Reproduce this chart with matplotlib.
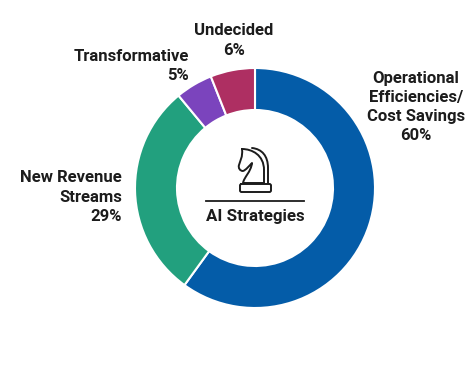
import matplotlib
matplotlib.use("Agg")
import matplotlib.pyplot as plt
from matplotlib.path import Path
from matplotlib.patches import PathPatch

# data
# ----------
labels = ["Operational\nEfficiencies/\nCost Savings\n60%", "New Revenue\nStreams\n29%", "Transformative\n5%", "Undecided\n6%"]
values = [60, 29, 5, 6]
colors = ["#045ca8", "#22a07e", "#7b44bd", "#ae2f62"]
center_label = "AI Strategies"

# plot settings
# ----------
plt.rcParams["font.family"] = "Roboto"
color_text = "#1c1c1c"
H = 365

fig = plt.figure(figsize=(4.68, 3.65), dpi=100)
ax = fig.add_axes([0, 0, 1, 1])

wedges, _ = ax.pie(values, colors=colors, center=(255, H - 188), radius=120, startangle=90, counterclock=False,
                   wedgeprops=dict(width=42, edgecolor="white", linewidth=1.5))
ax.set_xlim(0, 468)
ax.set_ylim(0, H)
ax.set_aspect("equal")

# labels, positions in pixels from the top left
label_pos = [(416, 107, "center"), (122, 197, "right"), (189, 66, "right"), (234, 40.5, "center")]
for label, (x, y, ha) in zip(labels, label_pos):
    ax.text(x, H - y, label, ha=ha, va="center", fontsize=12, fontweight="semibold",
            color=color_text, linespacing=1.35, multialignment=ha)

ax.text(255, H - 217, center_label, ha="center", va="center", fontsize=12.2, fontweight="semibold", color=color_text)
ax.plot([206, 304], [H - 200.5, H - 200.5], color=color_text, lw=1.3)


# knight icon
def knight_patch(verts, codes):
    pts = [(x, H - y) for x, y in verts]
    return PathPatch(Path(pts, codes), fill=False, edgecolor=color_text, lw=1.4, capstyle="round", joinstyle="round")


M, L, C = Path.MOVETO, Path.LINETO, Path.CURVE4

head = [(242, 149), (252, 149), (264, 155), (264, 170),
        (264, 174), (264, 178), (264, 183),
        (243, 183),
        (244, 177), (251, 172), (252, 163),
        (249, 166), (246, 170), (243, 171),
        (240, 171), (238, 168), (239, 165),
        (240, 161), (243, 157), (242, 149)]
head_codes = [M, C, C, C, C, C, C, L, C, C, C, C, C, C, C, C, C, C, C, C]
ax.add_patch(knight_patch(head, head_codes))

mane = [(252, 148), (262, 149), (268, 156), (268, 168), (268, 183)]
ax.add_patch(knight_patch(mane, [M, C, C, C, L]))

base = [(241, 184), (270, 184), (271, 185), (271, 191), (270, 192), (241, 192), (240, 191), (240, 185), (241, 184)]
ax.add_patch(knight_patch(base, [M, L, L, L, L, L, L, L, L]))

fig.savefig("out.png", dpi=100)
